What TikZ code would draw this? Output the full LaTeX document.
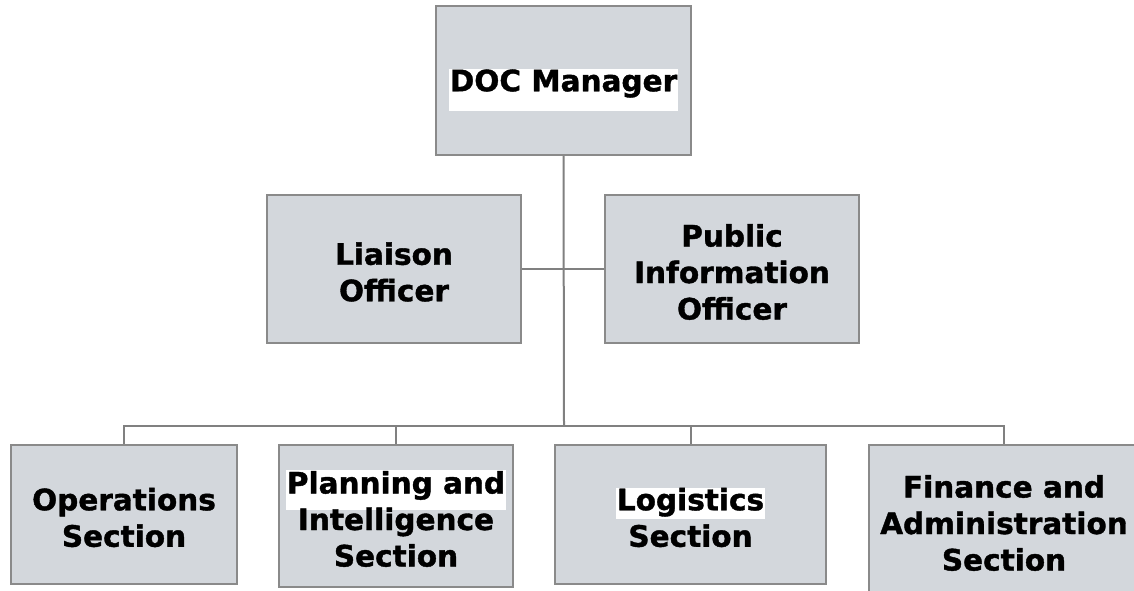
\documentclass[tikz,border=0pt]{standalone}
\usepackage{fontspec}
\setmainfont{DejaVu Sans}
\newfontfamily\orgfont{DejaVu Sans Bold}[FakeBold=1.3]
\definecolor{boxfill}{RGB}{211,215,220}
\definecolor{boxline}{RGB}{138,138,138}
\definecolor{conline}{RGB}{128,128,128}
\newcommand\hilite[3]{\leavevmode\vphantom{#1}\smash{\begingroup\setlength\fboxsep{0pt}\colorbox{white}{\rule[-#3]{0pt}{\dimexpr#2+#3\relax}\kern1pt#1\kern1pt}\endgroup}}
\begin{document}
\begin{tikzpicture}[x=1pt,y=-1pt,
  orgbox/.style={draw=boxline,fill=boxfill,line width=2pt,rectangle,inner sep=0pt},
  orgtext/.style={align=center,inner sep=0pt,yshift=-3pt,
    font=\fontsize{29.5}{36.5}\selectfont\orgfont},
  conn/.style={draw=conline,line width=2pt}]
\clip (0,0) rectangle (1134,591);
\fill[white] (0,0) rectangle (1134,591);
% nodes
\node[orgbox,minimum width=255pt,minimum height=149pt,
  label={[orgtext]center:{\hilite{DOC Manager}{22pt}{20pt}}}] (doc) at (563.5,80.5) {};
\node[orgbox,minimum width=254pt,minimum height=148pt,
  label={[orgtext]center:{Liaison\\Officer}}] (lia) at (394,269) {};
\node[orgbox,minimum width=254pt,minimum height=148pt,
  label={[orgtext]center:{Public\\Information\\Officer}}] (pio) at (732,269) {};
\node[orgbox,minimum width=226pt,minimum height=139pt,
  label={[orgtext]center:{Operations\\Section}}] (ops) at (124,514.5) {};
\node[orgbox,minimum width=234pt,minimum height=142pt,
  label={[orgtext]center:{\hilite{Planning and}{24pt}{16pt}\\Intelligence\\Section}}] (pln) at (396,516) {};
\node[orgbox,minimum width=271pt,minimum height=139pt,
  label={[orgtext]center:{\hilite{Logistics}{22pt}{9pt}\\Section}}] (log) at (690.5,514.5) {};
\node[orgbox,minimum width=270pt,minimum height=150pt,
  label={[orgtext]center:{Finance and\\Administration\\Section}}] (fin) at (1004,520) {};
% connectors
\coordinate (bus) at (564,426);
\path[conn] (doc.south) -- (bus);
\path[conn] (lia.east) -- (pio.west);
\path[conn] (ops.north) |- (bus) -| (fin.north);
\path[conn] (pln.north) -- (pln.north |- bus);
\path[conn] (log.north) -- (log.north |- bus);
\end{tikzpicture}
\end{document}
